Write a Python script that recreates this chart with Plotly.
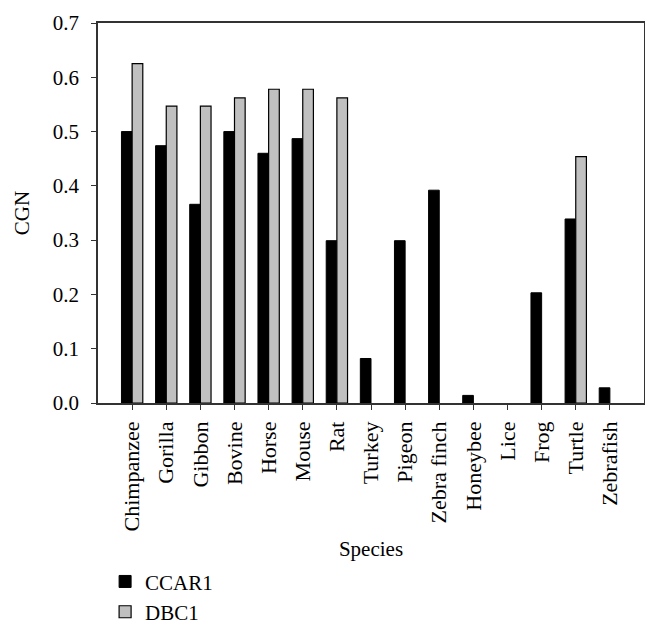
import plotly.graph_objects as go

species = ["Chimpanzee", "Gorilla", "Gibbon", "Bovine", "Horse", "Mouse", "Rat",
           "Turkey", "Pigeon", "Zebra finch", "Honeybee", "Lice", "Frog", "Turtle", "Zebrafish"]
ccar1 = [0.500, 0.474, 0.366, 0.500, 0.460, 0.487, 0.299,
         0.082, 0.299, 0.392, 0.014, 0.0, 0.203, 0.339, 0.028]
dbc1 = [0.625, 0.547, 0.547, 0.562, 0.578, 0.578, 0.562,
        0.0, 0.0, 0.0, 0.0, 0.0, 0.0, 0.454, 0.0]
yticks = [0.0, 0.1, 0.2, 0.3, 0.4, 0.5, 0.6, 0.7]

FONT = "Liberation Serif"
FS = 21


def outline(vals, w):
    # no outline on zero-height bars
    return [w if v > 0 else 0 for v in vals]


fig = go.Figure()
fig.add_trace(go.Bar(name="CCAR1", x=species, y=ccar1,
                     marker=dict(color="black",
                                 line=dict(color="black", width=outline(ccar1, 1)))))
fig.add_trace(go.Bar(name="DBC1", x=species, y=dbc1,
                     marker=dict(color="#c0c0c0",
                                 line=dict(color="black", width=outline(dbc1, 1.2)))))

# page body has a default margin, so the figure is a bit smaller than the window
fig.update_layout(
    width=645, height=621,
    margin=dict(l=90, r=9, t=15, b=226),
    paper_bgcolor="white", plot_bgcolor="white",
    font=dict(family=FONT, size=FS, color="black"),
    barmode="group", bargap=0.375, bargroupgap=0,
    showlegend=True,
    legend=dict(x=0.013, xanchor="left", yref="container", y=0.109, yanchor="top",
                font=dict(size=FS), tracegroupgap=0,
                bgcolor="rgba(0,0,0,0)"),
)
fig.update_xaxes(
    type="category", range=[-1, 15], tickangle=-90, automargin=False,
    showline=True, linecolor="#333", linewidth=1.5, mirror=True,
    ticks="outside", ticklen=5, tickcolor="#333", tickwidth=1.2,
    ticklabelstandoff=3,
    showgrid=False, zeroline=False,
    title=dict(text="Species", standoff=17, font=dict(size=FS)),
    tickfont=dict(size=22),
)
fig.update_yaxes(
    range=[0, 0.7], tickvals=yticks, tickformat=".1f", automargin=False,
    showline=True, linecolor="#333", linewidth=1.5, mirror=True,
    ticks="outside", ticklen=5, tickcolor="#333", tickwidth=1.2,
    ticklabelstandoff=8,
    showgrid=False, zeroline=False,
    title=dict(text="CGN", standoff=17, font=dict(size=FS)),
    tickfont=dict(size=FS),
)

fig.write_html("out.html")
